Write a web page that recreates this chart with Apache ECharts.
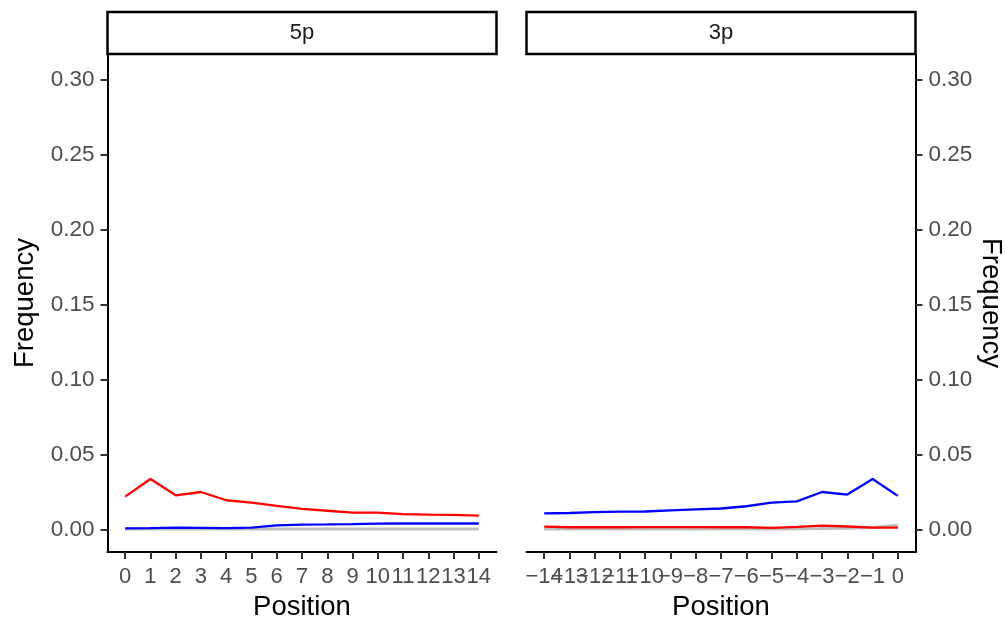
<!DOCTYPE html>
<html>
<head>
<meta charset="utf-8">
<script src="https://cdn.jsdelivr.net/npm/echarts@6/dist/echarts.min.js"></script>
<style>html,body{margin:0;padding:0;background:#fff;}#c{width:1005px;height:619px;}</style>
</head>
<body>
<div id="c"></div>
<script>
// ---- data ----
var pos5p = [0,1,2,3,4,5,6,7,8,9,10,11,12,13,14];
var pos3p = [-14,-13,-12,-11,-10,-9,-8,-7,-6,-5,-4,-3,-2,-1,0];
var red5p  = [0.0219,0.0337,0.0228,0.0250,0.0195,0.0179,0.0157,0.0137,0.0125,0.0112,0.0112,0.0103,0.0099,0.0097,0.0092];
var blue5p = [0.0008,0.0009,0.0012,0.0011,0.0009,0.0013,0.0027,0.0033,0.0034,0.0036,0.0039,0.0040,0.0041,0.0040,0.0040];
var gray5p = [0.0003,0.0003,0.0003,0.0003,0.0003,0.0003,0.0003,0.0003,0.0003,0.0003,0.0003,0.0003,0.0003,0.0003,0.0003];
var blue3p = [0.0108,0.0110,0.0116,0.0119,0.0120,0.0128,0.0134,0.0140,0.0155,0.0179,0.0188,0.0250,0.0233,0.0337,0.0224];
var red3p  = [0.0019,0.0015,0.0015,0.0015,0.0016,0.0016,0.0016,0.0015,0.0015,0.0011,0.0017,0.0026,0.0020,0.0013,0.0013];
var gray3p = [0.0004,0.0004,0.0004,0.0004,0.0004,0.0004,0.0004,0.0004,0.0004,0.0004,0.0005,0.0006,0.0008,0.0013,0.0028];
var yTicks = [0, 0.05, 0.10, 0.15, 0.20, 0.25, 0.30];
var xTicks5p = [0,1,2,3,4,5,6,7,8,9,10,11,12,13,14];
var xTicks3p = [-14,-13,-12,-11,-10,-9,-8,-7,-6,-5,-4,-3,-2,-1,0];
var panelNames = ['5p', '3p'];

function pairs(xs, ys){ return xs.map(function(x,i){ return [x, ys[i]]; }); }

var FONT = 'Liberation Sans, Arial, sans-serif';
var chart = echarts.init(document.getElementById('c'), null, {renderer:'canvas'});

var P = [{left:107.5, width:389}, {left:526.5, width:389}];
var gridTop = 54, gridHeight = 498;

// Each x axis's labels are split over two stacked axes (alternate ticks),
// so that ECharts does not drop labels that touch, as in the reference.
function makeX(idx, ticks, labelTicks, min, max, main){
  return {
    type:'value', gridIndex: idx, min:min, max:max, position:'bottom', offset:0,
    name: main ? 'Position' : '', nameLocation:'middle', nameGap:41,
    nameTextStyle:{color:'#000', fontSize:27.5, fontFamily:FONT},
    axisLine:{show:main, onZero:false, lineStyle:{color:'#000', width:2}},
    axisTick:{show:main, length:7, lineStyle:{color:'#333', width:2}, customValues:ticks},
    axisLabel:{show:true, color:'#4D4D4D', fontSize:22, fontFamily:FONT, margin:14, customValues:labelTicks,
      showMinLabel:true, showMaxLabel:true, hideOverlap:false,
      formatter:function(v){ return String(v).replace('-', '\u2212'); }},
    splitLine:{show:false}
  };
}
function makeY(idx, position){
  return {
    type:'value', gridIndex: idx, min:-0.015, max:0.317, position:position,
    name:'Frequency', nameLocation:'middle',
    nameGap: position==='left' ? 68 : 61,
    nameRotate: position==='left' ? 90 : -90,
    nameTextStyle:{color:'#000', fontSize:27.5, fontFamily:FONT},
    axisLine:{show:true, onZero:false, lineStyle:{color:'#000', width:2}},
    axisTick:{show:true, length:7, lineStyle:{color:'#333', width:2}, customValues:yTicks},
    axisLabel:{show:true, color:'#4D4D4D', fontSize:22.5, fontFamily:FONT, margin:13, customValues:yTicks,
      showMinLabel:true, showMaxLabel:true,
      formatter:function(v){ return v.toFixed(2); }},
    splitLine:{show:false}
  };
}
function line(xi, yi, xs, ys, color, w){
  return {type:'line', xAxisIndex:xi, yAxisIndex:yi, data:pairs(xs, ys), showSymbol:false, symbol:'none',
    lineStyle:{color:color, width:w}, itemStyle:{color:color}, silent:true, animation:false};
}
function even(a){ return a.filter(function(v,i){ return i % 2 === 0; }); }
function odd(a){ return a.filter(function(v,i){ return i % 2 === 1; }); }

var graphics = [];
P.forEach(function(p, i){
  graphics.push({type:'rect', shape:{x:p.left, y:12, width:p.width, height:42},
    style:{fill:'#fff', stroke:'#000', lineWidth:2.5}, z:10});
  graphics.push({type:'text', x:p.left + p.width/2, y:33,
    style:{text:panelNames[i], fill:'#1A1A1A', font:'22px ' + FONT, align:'center', verticalAlign:'middle'}, z:11});
});

chart.setOption({
  animation:false,
  backgroundColor:'#fff',
  grid:[
    {left:P[0].left, width:P[0].width, top:gridTop, height:gridHeight, containLabel:false, outerBoundsMode:'none'},
    {left:P[1].left, width:P[1].width, top:gridTop, height:gridHeight, containLabel:false, outerBoundsMode:'none'}
  ],
  xAxis:[
    makeX(0, xTicks5p, even(xTicks5p), -0.7, 14.7, true),
    makeX(1, xTicks3p, even(xTicks3p), -14.7, 0.7, true),
    makeX(0, xTicks5p, odd(xTicks5p), -0.7, 14.7, false),
    makeX(1, xTicks3p, odd(xTicks3p), -14.7, 0.7, false)
  ],
  yAxis:[ makeY(0, 'left'), makeY(1, 'right') ],
  series:[
    line(0, 0, pos5p, gray5p, '#BEBEBE', 3),
    line(0, 0, pos5p, blue5p, '#0000FF', 2.3),
    line(0, 0, pos5p, red5p, '#FF0000', 2.3),
    line(1, 1, pos3p, gray3p, '#BEBEBE', 3),
    line(1, 1, pos3p, red3p, '#FF0000', 2.3),
    line(1, 1, pos3p, blue3p, '#0000FF', 2.3)
  ],
  graphic: graphics
});
</script>
</body>
</html>
